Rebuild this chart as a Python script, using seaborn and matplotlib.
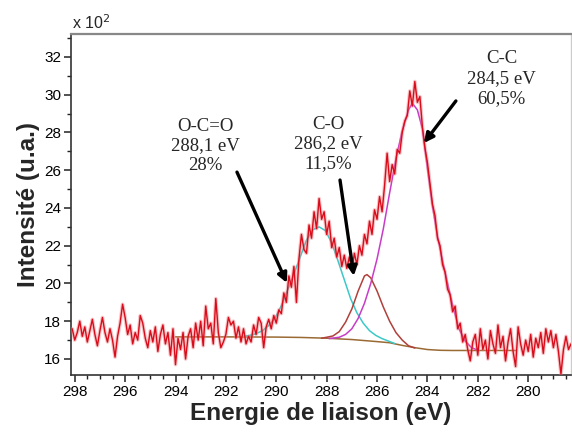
import numpy as np
import pandas as pd
import matplotlib
matplotlib.use("Agg")
import matplotlib.pyplot as plt
import seaborn as sns
from matplotlib.ticker import MultipleLocator

# ---------------- data ----------------
# measured spectrum, 0.1 eV steps from 298.1 eV down to 278.3 eV (x 10^2 counts)
spec_energy = np.round(np.arange(298.1, 278.25, -0.1), 1)
spec_counts = [
    17.6, 17.0, 17.4, 18.0, 17.2, 17.7, 16.9, 17.5, 18.1, 17.3,   # 298.1-297.2
    16.7, 17.5, 18.2, 17.4, 16.9, 17.6, 17.0, 16.1, 17.2, 17.9,   # 297.1-296.2
    18.9, 18.2, 17.3, 17.8, 16.8, 17.4, 17.0, 18.3, 17.9, 17.1,   # 296.1-295.2
    16.6, 17.5, 16.9, 17.7, 16.4, 17.3, 17.8, 16.8, 17.4, 16.2,   # 295.1-294.2
    17.6, 15.7, 17.1, 16.5, 17.4, 16.0, 17.2, 17.6, 16.6, 17.9,   # 294.1-293.2
    17.0, 18.0, 16.7, 18.8, 17.6, 17.9, 16.8, 19.2, 17.4, 16.6,   # 293.1-292.2
    16.9, 17.3, 18.2, 17.8, 18.0, 17.1, 17.7, 16.9, 17.6, 16.8,   # 292.1-291.2
    17.2, 16.9, 17.8, 17.3, 18.2, 17.9, 16.6, 17.7, 18.1, 17.6,   # 291.1-290.2
    18.3, 17.9, 18.6, 18.4, 19.5, 19.0, 20.4, 19.8, 20.9, 19.0,   # 290.1-289.2
    21.3, 22.6, 21.8, 21.6, 23.1, 22.4, 23.8, 22.9, 24.5, 23.4,   # 289.1-288.2
    23.8, 22.6, 23.3, 21.9, 22.4, 21.4, 21.9, 20.9, 21.5, 20.8,   # 288.1-287.2
    21.4, 20.7, 21.6, 21.0, 22.0, 21.5, 22.6, 22.1, 23.3, 22.6,   # 287.1-286.2
    23.9, 23.4, 24.6, 23.8, 25.2, 26.9, 25.4, 26.3, 25.8, 27.1,   # 286.1-285.2
    26.9, 28.0, 28.6, 28.9, 30.2, 29.4, 30.7, 29.6, 29.9, 28.3,   # 285.1-284.2
    27.2, 26.4, 25.3, 24.2, 23.6, 22.4, 22.0, 21.0, 20.6, 19.7,   # 284.1-283.2
    19.4, 18.5, 18.8, 17.6, 17.9, 16.9, 17.3, 16.5, 15.9, 16.9,   # 283.1-282.2
    17.3, 16.2, 17.6, 16.5, 17.0, 16.0, 17.5, 16.8, 16.3, 17.8,   # 282.1-281.2
    16.6, 17.2, 15.9, 16.9, 17.6, 16.4, 15.6, 17.7, 16.8, 16.2,   # 281.1-280.2
    17.0, 16.4, 17.3, 16.1, 17.1, 16.6, 17.4, 16.3, 17.6, 16.9,   # 280.1-279.2
    17.5, 16.6, 17.3, 16.4, 15.2, 16.5, 17.2, 16.5, 16.8,         # 279.1-278.3
]

# Shirley-type background
base_energy = [294.0, 292.0, 290.0, 289.0, 288.0, 287.0, 286.0, 285.5, 285.0,
               284.5, 284.0, 283.5, 283.0, 282.0, 281.0, 280.5]
base_counts = [17.17, 17.17, 17.16, 17.14, 17.10, 17.03, 16.92, 16.86, 16.72,
               16.60, 16.50, 16.46, 16.45, 16.45, 16.45, 16.45]

# O-C=O component (cyan)
oco_energy = [291.3, 291.05, 290.8, 290.55, 290.3, 290.05, 289.8, 289.55, 289.3,
              289.05, 288.8, 288.55, 288.3, 288.05, 287.8, 287.55, 287.3, 287.05,
              286.8, 286.55, 286.3, 286.05, 285.8, 285.55, 285.3]
oco_counts = [17.20, 17.25, 17.34, 17.50, 17.77, 18.17, 18.82, 19.66, 20.50,
              21.40, 22.30, 22.85, 23.00, 22.80, 22.15, 21.20, 20.20, 19.20,
              18.45, 17.90, 17.50, 17.25, 17.08, 16.95, 16.82]

# C-O component (brown red)
co_energy = [288.2, 288.0, 287.75, 287.5, 287.25, 287.0, 286.75, 286.5, 286.4,
             286.25, 286.0, 285.75, 285.5, 285.25, 285.0, 284.75, 284.5]
co_counts = [17.10, 17.15, 17.22, 17.45, 17.95, 18.65, 19.60, 20.40, 20.47,
             20.30, 19.60, 18.75, 18.00, 17.40, 17.00, 16.70, 16.58]

# C-C component (magenta)
cc_energy = [287.9, 287.5, 287.25, 287.0, 286.75, 286.5, 286.25, 286.0, 285.75,
             285.5, 285.25, 285.0, 284.75, 284.6, 284.4, 284.2, 284.0, 283.8,
             283.6, 283.4, 283.2, 283.0, 282.75, 282.5, 282.25, 282.0]
cc_counts = [17.08, 17.15, 17.30, 17.60, 18.15, 18.95, 20.00, 21.30, 22.90,
             24.80, 26.60, 28.10, 29.20, 29.55, 29.20, 28.20, 26.10, 24.10,
             22.50, 21.20, 20.00, 18.85, 17.60, 16.95, 16.60, 16.47]

peak_labels = ["O-C=O\n288,1 eV\n28%", "C-O\n286,2 eV\n11,5%", "C-C\n284,5 eV\n60,5%"]
x_ticks = [298, 296, 294, 292, 290, 288, 286, 284, 282, 280]
y_ticks = [16, 18, 20, 22, 24, 26, 28, 30, 32]

# ---------------- figure ----------------
sns.set_style("ticks")
plt.rcParams["font.family"] = ["Liberation Sans", "DejaVu Sans"]

fig = plt.figure(figsize=(5.72, 4.34), dpi=100)
ax = fig.add_axes([0.1236, 0.1359, 0.8747, 0.785])

spec_df = pd.DataFrame({"E": spec_energy, "I": spec_counts})
base_df = pd.DataFrame({"E": base_energy, "I": base_counts})
oco_df = pd.DataFrame({"E": oco_energy, "I": oco_counts})
co_df = pd.DataFrame({"E": co_energy, "I": co_counts})
cc_df = pd.DataFrame({"E": cc_energy, "I": cc_counts})

sns.lineplot(data=base_df, x="E", y="I", ax=ax, color="#9a6a34", lw=1.1, sort=False, zorder=2)
sns.lineplot(data=oco_df, x="E", y="I", ax=ax, color="#3cc8c8", lw=1.1, sort=False, zorder=3)
sns.lineplot(data=co_df, x="E", y="I", ax=ax, color="#b0403a", lw=1.1, sort=False, zorder=3)
sns.lineplot(data=cc_df, x="E", y="I", ax=ax, color="#c83cc8", lw=1.1, sort=False, zorder=3)
# soft pink halo + red core, as in the scanned original
sns.lineplot(data=spec_df, x="E", y="I", ax=ax, color="#f07a80", lw=2.6, sort=False,
             zorder=4, alpha=0.45)
sns.lineplot(data=spec_df, x="E", y="I", ax=ax, color="#d80c1a", lw=1.0, sort=False,
             zorder=5)

ax.set_xlim(298.16, 278.3)
ax.set_ylim(15.15, 33.2)
ax.set_xticks(x_ticks)
ax.set_yticks(y_ticks)
ax.xaxis.set_minor_locator(MultipleLocator(0.5))
ax.yaxis.set_minor_locator(MultipleLocator(1))
ax.tick_params(axis="both", which="major", direction="out", length=5, width=1.1,
               labelsize=11, pad=2, colors="#222222", labelcolor="black")
ax.tick_params(axis="both", which="minor", direction="out", length=3, width=1.0,
               colors="#222222")
ax.tick_params(top=False, right=False, which="both")

for side in ["left", "bottom"]:
    ax.spines[side].set_color("#333333")
    ax.spines[side].set_linewidth(1.2)
ax.spines["top"].set_color("#888888")
ax.spines["top"].set_linewidth(1.6)
ax.spines["right"].set_color("#cccccc")
ax.spines["right"].set_linewidth(1.0)

ax.set_xlabel("Energie de liaison (eV)", fontsize=17.5, fontweight="bold", labelpad=2)
ax.set_ylabel("Intensité (u.a.)", fontsize=17.5, fontweight="bold", labelpad=3)
ax.text(0.002, 1.006, r"x 10$^{2}$", transform=ax.transAxes, ha="left", va="bottom",
        fontsize=11.5)

# annotations
text_pos_x = [292.83, 287.95, 281.05]
text_pos_y = [27.28, 27.39, 30.86]
for lbl, tx, ty in zip(peak_labels, text_pos_x, text_pos_y):
    ax.text(tx, ty, lbl, ha="center", va="center", multialignment="center",
            fontsize=13.5, family=["Liberation Serif", "DejaVu Serif"],
            linespacing=1.2, zorder=6)

arrow_tail = [(291.56, 25.9), (287.47, 25.48), (282.87, 29.67)]
arrow_tip = [(289.58, 20.03), (286.92, 20.4), (284.14, 27.44)]
for tail, tip in zip(arrow_tail, arrow_tip):
    ax.annotate("", xy=tip, xytext=tail,
                arrowprops=dict(arrowstyle="-|>", color="black", lw=2.4,
                                mutation_scale=14, shrinkA=0, shrinkB=0),
                zorder=7)

fig.savefig("out.png", dpi=100)
